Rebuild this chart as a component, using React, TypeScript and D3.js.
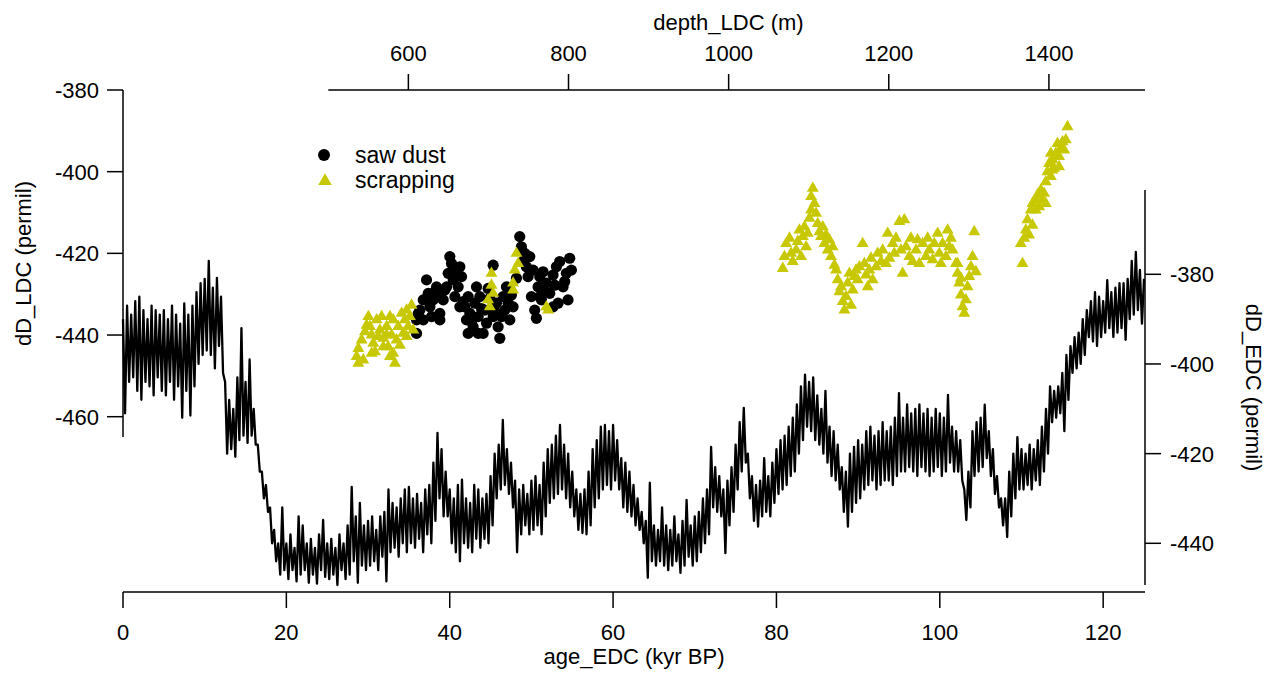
import React from 'react';
import * as d3 from 'd3';

// ---------- DATA ----------
// EDC deuterium record (right axis) vs age (bottom axis): upper / lower excursions every 0.5 kyr
const edcAge: number[] = d3.range(0, 125.001, 0.5);
const edcHi: number[] = [
  -390, -387, -389, -386, -385, -388, -390, -387, -388, -389,
  -388, -390, -387, -389, -391, -386.5, -389, -387, -384, -382,
  -381, -377, -383, -380.8, -385, -404, -408, -410, -403, -392,
  -404, -399, -410, -418, -424, -427, -432, -437, -440, -432,
  -440, -438, -441, -434, -436, -440, -439, -441, -438, -434.8,
  -440, -439, -441, -438, -440, -436, -427.4, -434, -431, -436,
  -435, -434, -437, -434, -433, -428, -431, -432, -430, -428,
  -427.4, -430, -429, -431, -428, -427, -422, -415.4, -419, -424,
  -428, -430, -427, -425.8, -430, -431, -427, -428, -430, -429,
  -425, -420, -418, -412.5, -419, -422, -426, -428, -427, -429,
  -426, -425, -427, -422, -419, -418, -416, -413.6, -418, -420,
  -424, -428, -429, -428, -424, -419, -417, -414, -413.6, -415,
  -413.6, -417, -421, -422, -424, -427, -430, -433, -435, -426.5,
  -436, -437, -432, -436, -437, -434, -438, -435, -430.3, -436,
  -434, -433, -430, -428, -418.5, -423, -425, -428, -426, -423,
  -418, -413, -409.8, -420, -425, -427, -426, -421, -425, -422,
  -419, -417, -416, -414, -412, -409, -405, -402.4, -404, -403,
  -407, -410, -406, -414, -415, -418, -423, -424, -420, -418.5,
  -417, -418, -415, -414, -416, -415, -413, -415, -414, -412,
  -406.5, -412, -409, -411, -410, -409, -411, -410, -412, -410,
  -411, -412, -406.9, -414, -415, -417, -428, -424, -415, -413,
  -412, -409.1, -415, -419, -425, -430, -430, -424, -420, -416.3,
  -419, -420, -418, -419, -417, -414, -410, -405, -406, -405,
  -402, -398, -396, -394, -393, -390, -388, -386, -384, -385,
  -386, -381.3, -384, -383, -382, -382, -381, -377, -375, -379,
  -381,
];
const edcLo: number[] = [
  -411, -404, -403, -406, -408, -404, -405, -407, -403, -406,
  -407, -404, -408, -405, -412, -406, -411.5, -405, -400, -398,
  -397, -398, -401, -396, -402, -420, -419, -420.7, -417, -416,
  -417.6, -416, -418, -424, -430, -433, -440, -444, -447, -446,
  -448, -446, -448.5, -447, -446, -448.8, -447, -449, -446, -447.5,
  -448, -447, -449.3, -446, -448, -447, -444, -448.8, -445, -446,
  -445, -444, -446, -443, -448.5, -442, -441, -443, -440, -442,
  -440, -441, -439, -442, -438, -440, -435, -430, -434, -434,
  -440, -442, -444, -440, -441, -442, -439, -441, -439, -440,
  -436, -430, -428, -427, -429, -432, -442, -438, -436, -438,
  -437, -436, -438, -434, -431, -430, -429, -428, -430, -432,
  -434, -437, -437.7, -438, -436, -432, -430, -428, -427, -428,
  -426, -428, -432, -433, -434, -436, -437, -440, -447.7, -444,
  -445, -444, -445, -446, -445, -444, -446.6, -445, -443, -445,
  -444, -442, -440, -438, -432, -433, -434, -442.2, -436, -433,
  -428, -424, -422, -430, -435, -436.3, -434, -433, -434, -431,
  -429, -428, -427, -425, -424, -420, -417, -414, -415, -417,
  -418, -420, -422, -425, -426, -428, -433, -436.3, -433, -431,
  -430, -428, -427, -426, -428, -427, -426, -426, -427, -425,
  -424, -424, -423, -424, -425, -423, -424, -425, -424, -423,
  -425, -424, -422, -424, -424, -426, -434.8, -432, -425, -424,
  -423, -421, -425, -429, -432, -436, -438.6, -434, -430, -428,
  -428, -427, -428, -426, -427, -424, -420, -413, -412, -411,
  -415, -408, -402, -401, -400, -398, -394, -395, -396, -394,
  -393, -392, -394, -393, -392, -394.6, -390, -389, -388, -391,
  -392,
];

// LDC "saw dust" samples: depth (m) and dD (permil)
const sawDepth: number[] = [
  610.2, 610.2, 614.4, 618.6, 622.7, 624.8, 626.9, 631.0, 635.2, 639.3,
  637.3, 643.5, 647.7, 649.7, 651.8, 653.9, 656.0, 660.1, 662.2, 664.3,
  666.4, 658.1, 664.3, 670.5, 672.6, 674.7, 676.8, 680.9, 683.0, 685.1,
  687.2, 689.2, 693.4, 695.5, 697.6, 699.6, 705.9, 705.9, 710.0, 712.1,
  714.2, 716.3, 718.3, 720.4, 722.5, 724.6, 726.7, 730.8, 735.0, 739.1,
  741.2, 745.4, 747.4, 749.5, 751.6, 753.7, 755.8, 757.8, 759.9, 762.0,
  764.1, 766.2, 768.2, 772.4, 776.6, 780.7, 784.9, 789.0, 793.2, 797.3,
  801.5, 803.6, 799.4, 787.0, 780.7, 764.1, 639.3, 674.7, 687.2, 618.6,
  629.0, 612.3, 633.1, 645.6, 668.5, 678.9, 691.3, 701.7, 708.0, 728.7,
  743.3, 770.3, 782.8, 795.2,
];
const sawDD: number[] = [
  -439.6, -436.3, -433.9, -431.4, -426.5, -429.8, -433.1, -431.4, -428.2, -434.7,
  -430.6, -431.4, -428.2, -424.9, -420.8, -422.5, -426.5, -424.1, -428.2, -423.3,
  -425.7, -430.6, -433.1, -433.1, -436.3, -430.6, -434.7, -438.0, -432.2, -428.2,
  -435.5, -430.6, -439.6, -433.9, -437.1, -428.6, -422.9, -435.5, -432.2, -438.0,
  -440.8, -435.5, -430.6, -433.9, -428.2, -432.2, -436.3, -433.1, -426.1, -415.9,
  -418.4, -420.0, -423.3, -425.7, -420.8, -430.6, -424.1, -433.9, -435.9, -428.2,
  -425.7, -431.4, -424.5, -427.3, -429.8, -425.3, -423.3, -422.0, -428.2, -424.9,
  -421.2, -424.1, -431.4, -432.2, -433.1, -430.6, -436.3, -439.6, -439.6, -436.3,
  -435.5, -434.8, -429.4, -429.0, -431.8, -436.7, -433.5, -431.0, -434.3, -430.2,
  -422.0, -429.0, -427.8, -426.9,
];

// LDC "scrapping" samples: depth (m) and dD (permil)
const scrapDepth: number[] = [
  535.4, 537.5, 541.6, 545.8, 550.0, 547.9, 554.1, 556.2, 560.3, 558.3,
  564.5, 566.6, 568.7, 572.8, 574.9, 577.0, 579.0, 581.1, 583.2, 585.3,
  587.4, 591.5, 593.6, 595.7, 597.8, 599.8, 601.9, 604.0, 606.1, 537.5,
  554.1, 568.7, 589.4, 577.0, 543.7, 552.0, 562.4, 597.8, 581.1, 572.8,
  703.8, 703.8, 699.6, 701.7, 705.9, 730.8, 732.9, 735.0, 737.1, 730.8,
  772.4, 774.5,
  1067.6, 1069.7, 1071.8, 1076.0, 1078.0, 1080.1, 1084.3, 1086.3, 1088.4, 1090.5,
  1092.6, 1094.7, 1096.7, 1098.8, 1100.9, 1103.0, 1103.0, 1105.1, 1107.1, 1109.2,
  1111.3, 1113.4, 1115.4, 1117.5, 1119.6, 1121.7, 1123.8, 1125.8, 1127.9, 1130.0,
  1132.1, 1134.2, 1136.2, 1138.3, 1140.4, 1142.5, 1144.6, 1146.6, 1148.7, 1150.8,
  1152.9, 1155.0, 1157.0, 1159.1, 1161.2, 1163.3, 1167.4, 1169.5, 1171.6, 1173.7,
  1175.7, 1177.8, 1179.9, 1184.1, 1186.1, 1190.3, 1192.4, 1196.5, 1198.6, 1200.7,
  1204.8, 1206.9, 1209.0, 1213.2, 1215.2, 1217.3, 1219.4, 1221.5, 1225.6, 1227.7,
  1229.8, 1234.0, 1236.0, 1238.1, 1242.3, 1246.4, 1248.5, 1250.6, 1254.7, 1256.8,
  1261.0, 1263.1, 1265.1, 1267.2, 1271.4, 1273.5, 1275.5, 1277.6, 1279.7, 1283.8,
  1285.9, 1288.0, 1290.1, 1292.2, 1294.2, 1296.3, 1298.4, 1300.5, 1302.6, 1304.6,
  1306.7, 1308.8, 1290.1, 1285.9,
  1367.0, 1364.9, 1369.1, 1371.2, 1373.2, 1377.4, 1379.5, 1383.6, 1385.7, 1387.8,
  1389.9, 1392.0, 1394.0, 1396.1, 1398.2, 1400.3, 1402.4, 1404.4, 1406.5, 1408.6,
  1410.7, 1412.7, 1414.8, 1416.9, 1419.0, 1421.1, 1423.2, 1404.4, 1402.4, 1412.7,
  1379.5, 1375.3, 1383.6, 1396.1,
];
const scrapDD: number[] = [
  -445.3, -443.3, -441.2, -439.2, -435.5, -437.6, -440.0, -442.0, -436.3, -444.1,
  -438.8, -435.5, -440.8, -437.9, -442.9, -435.5, -440.0, -444.5, -446.9, -441.2,
  -437.9, -434.7, -439.6, -436.3, -440.4, -437.9, -435.5, -432.7, -438.8, -446.9,
  -444.5, -442.9, -442.5, -445.3, -446.1, -437.9, -440.4, -433.9, -436.3, -440.0,
  -424.9, -427.8, -431.4, -433.1, -429.8, -427.3, -424.1, -420.0, -422.5, -429.0,
  -433.1, -433.9,
  -423.7, -420.8, -417.6, -416.3, -420.0, -422.0, -419.2, -417.1, -414.3, -420.8,
  -415.9, -413.5, -418.4, -415.1, -411.4, -409.4, -406.1, -404.1, -407.8, -410.2,
  -412.7, -414.7, -415.9, -413.5, -417.6, -415.5, -419.2, -416.7, -420.8, -418.4,
  -422.9, -424.1, -426.5, -429.4, -428.2, -431.8, -433.9, -430.6, -427.3, -424.9,
  -432.7, -429.0, -425.7, -424.1, -426.5, -423.3, -417.6, -422.5, -425.3, -428.2,
  -424.1, -421.2, -426.5, -423.3, -420.0, -422.0, -419.2, -422.5, -415.1, -421.2,
  -417.6, -420.0, -416.3, -412.2, -419.2, -424.9, -411.8, -418.4, -420.8, -416.3,
  -422.0, -419.2, -416.7, -422.5, -417.6, -420.8, -416.3, -419.2, -421.6, -417.6,
  -415.1, -420.0, -422.5, -417.6, -420.8, -414.3, -418.4, -416.3, -419.2, -422.5,
  -424.9, -427.3, -430.2, -433.1, -434.7, -431.4, -428.2, -425.7, -423.3, -420.8,
  -414.7, -424.5, -426.1, -422.5,
  -422.5, -417.6, -416.3, -414.3, -411.8, -409.4, -407.8, -406.9, -405.7, -408.6,
  -404.5, -406.9, -405.3, -402.5, -400.0, -398.0, -401.2, -397.1, -399.2, -395.5,
  -393.1, -396.3, -394.3, -392.7, -394.7, -392.2, -389.0, -399.6, -395.5, -398.8,
  -413.1, -415.5, -409.4, -407.8,
];

// Tick labels
const ageTicks: number[] = [0, 20, 40, 60, 80, 100, 120];
const depthTicks: number[] = [600, 800, 1000, 1200, 1400];
const ldcTicks: number[] = [-380, -400, -420, -440, -460];
const edcTicks: number[] = [-380, -400, -420, -440];

const legendItems: string[] = ['saw dust', 'scrapping'];

// ---------- LAYOUT ----------
const W = 1273;
const H = 675;
const FONT = '"Liberation Sans", Arial, Helvetica, sans-serif';
const FS = 22;
const FS_LEG = 23;
const YELLOW = '#c8c800';
const TICK = 16;

const xAge = d3.scaleLinear().domain([0, 125]).range([123, 1144]);
const xDepth = d3.scaleLinear().domain([500, 1520]).range([328.3, 1145]);
const yLDC = d3.scaleLinear().domain([-380, -460]).range([90, 416.7]);
const yEDC = d3.scaleLinear().domain([-380, -440]).range([274.3, 543.3]);

const ldcExtent = [-380, -465];
const edcExtent = [-361.2, -449.3];
const bottomY = 592;
const topY = 90;

export default function App() {
  // Build EDC path alternating upper and lower excursions
  const pts: [number, number][] = [];
  edcAge.forEach((a, i) => {
    pts.push([xAge(a), yEDC(edcHi[i])]);
    if (i < edcAge.length - 1) pts.push([xAge(a + 0.25), yEDC(edcLo[i])]);
  });
  const linePath = d3.line()(pts) || '';

  const tri = d3.symbol(d3.symbolTriangle, 62)() || '';
  const triLegend = d3.symbol(d3.symbolTriangle, 80)() || '';

  const leftX = xAge(0);
  const rightX = xDepth(1520);

  return (
    <svg
      width={W}
      height={H}
      style={{ position: 'absolute', left: 0, top: 0, background: '#fff' }}
      fontFamily={FONT}
      fontSize={FS}
    >
      {/* EDC line */}
      <path d={linePath} fill="none" stroke="#000" strokeWidth={2.3} strokeLinejoin="round" />

      {/* LDC saw dust */}
      <g fill="#000">
        {sawDepth.map((d, i) => (
          <circle key={'s' + i} cx={xDepth(d)} cy={yLDC(sawDD[i])} r={5.6} />
        ))}
      </g>
      {/* LDC scrapping */}
      <g fill={YELLOW}>
        {scrapDepth.map((d, i) => (
          <path key={'t' + i} d={tri} transform={`translate(${xDepth(d)},${yLDC(scrapDD[i])})`} />
        ))}
      </g>

      {/* Left axis */}
      <g stroke="#000" strokeWidth={1.5}>
        <line x1={leftX} x2={leftX} y1={yLDC(ldcExtent[0])} y2={yLDC(ldcExtent[1])} />
        {ldcTicks.map((t) => (
          <line key={'lt' + t} x1={leftX - TICK} x2={leftX} y1={yLDC(t)} y2={yLDC(t)} />
        ))}
      </g>
      {ldcTicks.map((t) => (
        <text key={'ll' + t} x={leftX - TICK - 8} y={yLDC(t) + 8} textAnchor="end">
          {String(t)}
        </text>
      ))}
      <text transform={`translate(31,${(yLDC(ldcExtent[0]) + yLDC(ldcExtent[1])) / 2}) rotate(-90)`} textAnchor="middle">
        dD_LDC (permil)
      </text>

      {/* Right axis */}
      <g stroke="#000" strokeWidth={1.5}>
        <line x1={rightX} x2={rightX} y1={yEDC(edcExtent[0])} y2={yEDC(edcExtent[1])} />
        {edcTicks.map((t) => (
          <line key={'rt' + t} x1={rightX} x2={rightX + TICK} y1={yEDC(t)} y2={yEDC(t)} />
        ))}
      </g>
      {edcTicks.map((t) => (
        <text key={'rl' + t} x={rightX + TICK + 9} y={yEDC(t) + 8} textAnchor="start">
          {String(t)}
        </text>
      ))}
      <text transform={`translate(1246,${(yEDC(edcExtent[0]) + yEDC(edcExtent[1])) / 2}) rotate(90)`} textAnchor="middle">
        dD_EDC (permil)
      </text>

      {/* Bottom axis */}
      <g stroke="#000" strokeWidth={1.5}>
        <line x1={leftX} x2={rightX} y1={bottomY} y2={bottomY} />
        {ageTicks.map((t) => (
          <line key={'bt' + t} x1={xAge(t)} x2={xAge(t)} y1={bottomY} y2={bottomY + TICK} />
        ))}
      </g>
      {ageTicks.map((t) => (
        <text key={'bl' + t} x={xAge(t)} y={640} textAnchor="middle">
          {String(t)}
        </text>
      ))}
      <text x={(leftX + rightX) / 2} y={664} textAnchor="middle">
        age_EDC (kyr BP)
      </text>

      {/* Top axis */}
      <g stroke="#000" strokeWidth={1.5}>
        <line x1={xDepth(500)} x2={rightX} y1={topY} y2={topY} />
        {depthTicks.map((t) => (
          <line key={'tt' + t} x1={xDepth(t)} x2={xDepth(t)} y1={topY - TICK} y2={topY} />
        ))}
      </g>
      {depthTicks.map((t) => (
        <text key={'tl' + t} x={xDepth(t)} y={61} textAnchor="middle">
          {String(t)}
        </text>
      ))}
      <text x={728.5} y={30} textAnchor="middle">
        depth_LDC (m)
      </text>

      {/* Legend */}
      <circle cx={324} cy={155} r={6} fill="#000" />
      <text x={355} y={163} fontSize={FS_LEG}>{legendItems[0]}</text>
      <path d={triLegend} transform="translate(325,181)" fill={YELLOW} />
      <text x={355} y={188} fontSize={FS_LEG}>{legendItems[1]}</text>
    </svg>
  );
}
